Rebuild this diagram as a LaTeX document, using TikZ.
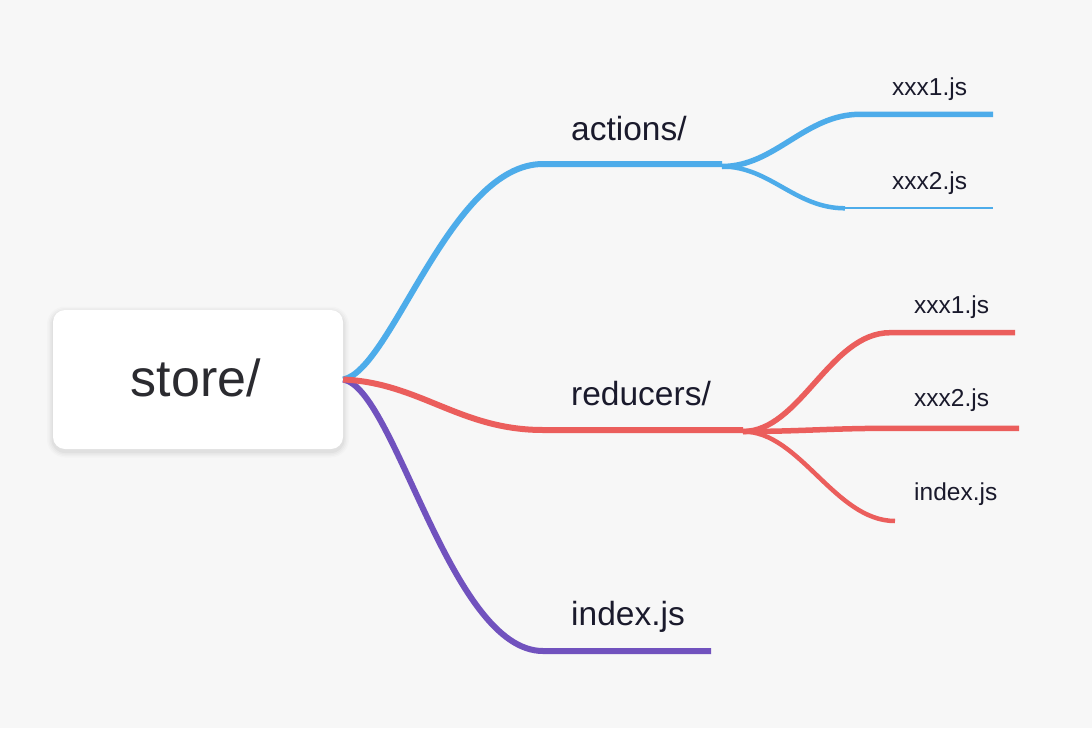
\documentclass[tikz,border=0pt]{standalone}
\usepackage{fontspec}
\setmainfont{Liberation Sans}
\definecolor{bg}{HTML}{F7F7F7}
\definecolor{cblue}{HTML}{4DACEA}
\definecolor{cred}{HTML}{EB5E5C}
\definecolor{cpurple}{HTML}{7152BE}
\definecolor{ctext}{HTML}{1A1A2C}
\definecolor{croot}{HTML}{2B2B30}
\begin{document}
\begin{tikzpicture}[x=1pt,y=-1pt,
  rootbox/.style={fill=white, rounded corners=12pt, minimum width=290pt, minimum height=139pt, inner sep=0pt},
  biglabel/.style={anchor=base west, inner sep=0pt, text=ctext, font=\fontsize{33.5}{40}\selectfont},
  smalllabel/.style={anchor=base west, inner sep=0pt, text=ctext, font=\fontsize{24.5}{30}\selectfont},
  mainline/.style={line width=6pt},
  subline/.style={line width=5.5pt},
  thinline/.style={line width=2pt}]
\fill[bg] (0,0) rectangle (1092,728);
\useasboundingbox (0,0) rectangle (1092,728);

% soft shadow of the root box
\foreach \s/\o in {6/0.015,4.5/0.02,3/0.025,1.5/0.03}{
  \fill[black, opacity=\o, rounded corners=12pt+\s pt] (53-\s,310-\s+2.5) rectangle (343+\s,449+\s+2.5);
}
% root
\node[rootbox] (root) at (198,379.5) {};
\node[anchor=base, inner sep=0pt, text=croot, font=\fontsize{52}{60}\selectfont] (roottext) at (196,396.5) {store/};

% branch coordinates
\coordinate (aS) at (543,164);
\coordinate (aE) at (722,164);
\coordinate (aF) at (722,166.5);
\coordinate (rS) at (543,430);
\coordinate (rE) at (743,430);
\coordinate (rF) at (743,431.5);
\coordinate (iS) at (543,651);
\coordinate (iE) at (711,651);

% labels
\node[biglabel] (actions) at (571,140.7) {actions/};
\node[biglabel] (reducers) at (571,405) {reducers/};
\node[biglabel] (idx) at (571,625.5) {index.js};

\node[smalllabel] (a1) at (892,95) {xxx1.js};
\node[smalllabel] (a2) at (892,189.5) {xxx2.js};
\node[smalllabel] (r1) at (914,313) {xxx1.js};
\node[smalllabel] (r2) at (914,406.7) {xxx2.js};
\node[smalllabel] (r3) at (914,500) {index.js};

% leaf coordinates
\coordinate (a1S) at (860,114.3);
\coordinate (a1E) at (993,114.3);
\coordinate (a2S) at (845,208.3);
\coordinate (a2E) at (993,208.3);
\coordinate (r1S) at (890,332.7);
\coordinate (r1E) at (1015,332.7);
\coordinate (r2S) at (890,428.3);
\coordinate (r2E) at (1019,428.3);
\coordinate (r3S) at (895,521);

% main connectors
\draw[cblue, mainline] (root.east) .. controls (392,370) and (450,164) .. (aS) -- (aE);
\draw[cpurple, mainline] (root.east) .. controls (395,388) and (450,651) .. (iS) -- (iE);
\draw[cred, mainline] (root.east) .. controls (420,383) and (460,430) .. (rS) -- (rE);

% actions leaves
\draw[cblue, subline] (aF) .. controls (775,166.5) and (805,114.3) .. (a1S) -- (a1E);
\draw[cblue, line width=4.5pt] (aF) .. controls (770,166.5) and (795,208.3) .. (a2S);
\draw[cblue, thinline] (a2S) -- (a2E);

% reducers leaves
\draw[cred, subline] (rF) .. controls (800,431.5) and (830,332.7) .. (r1S) -- (r1E);
\draw[cred, subline] (rF) .. controls (800,431.5) and (830,428.3) .. (r2S) -- (r2E);
\draw[cred, line width=4.5pt] (rF) .. controls (800,431.5) and (835,521) .. (r3S);
\end{tikzpicture}
\end{document}
